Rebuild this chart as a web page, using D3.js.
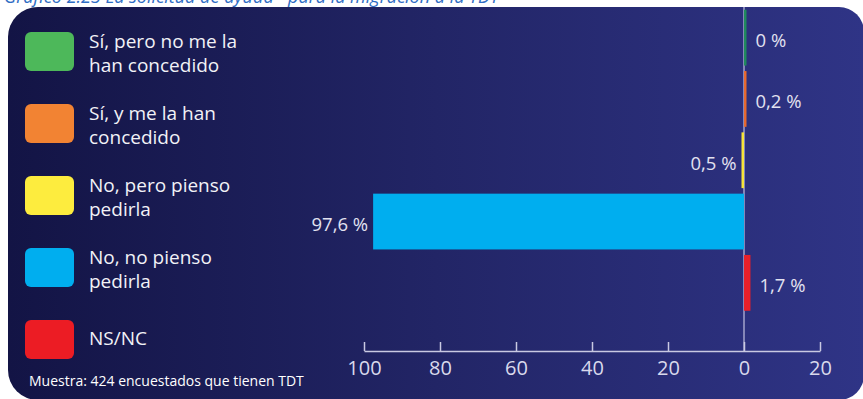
<!DOCTYPE html>
<html><head><meta charset="utf-8">
<script src="https://cdn.jsdelivr.net/npm/d3@7"></script>
<style>html,body{margin:0;padding:0;background:#fff;overflow:hidden;} svg{display:block;}</style>
</head><body><svg id="c" width="863" height="399"></svg>
<script>
const categories = ["Sí, pero no me la han concedido", "Sí, y me la han concedido", "No, pero pienso pedirla", "No, no pienso pedirla", "NS/NC"];
const legendLines = [["Sí, pero no me la","han concedido"],["Sí, y me la han","concedido"],["No, pero pienso","pedirla"],["No, no pienso","pedirla"],["NS/NC"]];
const values = [0, 0.2, 0.5, 97.6, 1.7];
const directions = [1, 1, -1, -1, 1];
const valueLabels = ["0 %","0,2 %","0,5 %","97,6 %","1,7 %"];
const tickValues = [-100,-80,-60,-40,-20,0,20];
const tickLabels = ["100","80","60","40","20","0","20"];
const swatchColors = ["#4db85a","#f28333","#fdec3e","#00aeef","#ec1c24"];
const barColors = ["#1f8a5e","#e8692e","#f6e33a","#00aeef","#e8202a"];
const title = "Gráfico 2.23 La solicitud de ayuda* para la migración a la TDT";
const footnote = "Muestra: 424 encuestados que tienen TDT";

const FONT = "'Open Sans', 'Noto Sans', sans-serif";
const svg = d3.select("#c");
const defs = svg.append("defs");
const grad = defs.append("linearGradient").attr("id","bg").attr("x1","0").attr("x2","1").attr("y1","0").attr("y2","0");
grad.append("stop").attr("offset","0").attr("stop-color","#131445");
grad.append("stop").attr("offset","0.5").attr("stop-color","#222566");
grad.append("stop").attr("offset","1").attr("stop-color","#2f3486");

// panel
const L=8,T=7,R=864,B=400,r1=30,r2=25;
const p = d3.path();
p.moveTo(L+r1,T); p.lineTo(R-r2,T); p.arcTo(R,T,R,T+r2,r2);
p.lineTo(R,B-r2); p.arcTo(R,B,R-r2,B,r2);
p.lineTo(L+r1,B); p.arcTo(L,B,L,B-r1,r1);
p.lineTo(L,T+r1); p.arcTo(L,T,L+r1,T,r1); p.closePath();
svg.append("path").attr("d",p.toString()).attr("fill","url(#bg)");

// title (partly cut off at top, as in the reference)
svg.append("text").attr("x",4).attr("y",3).attr("fill","#2f6dc4")
  .attr("font-family",FONT).attr("font-style","italic")
  .attr("font-size",18).text(title);

// scales
const x = d3.scaleLinear().domain([-100,20]).range([364,820]);
const y = d3.scaleBand().domain(categories).range([7,313.5]).paddingInner(0.09).paddingOuter(0.045);
const axisY = 351;

// zero line
svg.append("line").attr("x1",x(0)).attr("x2",x(0)).attr("y1",T).attr("y2",axisY)
  .attr("stroke","#a3a3cc").attr("stroke-width",1.5);

// bars
const data = categories.map((c,i)=>({c,i,v:values[i]*directions[i]}));
const minW = 2.5;
function barW(d){ return Math.max(Math.abs(x(d.v)-x(0)), minW); }
function barX(d){ return directions[d.i]>0 ? x(0) : x(0)-barW(d); }
svg.append("g").selectAll("rect").data(data).join("rect")
  .attr("x",d=>barX(d)).attr("width",d=>barW(d))
  .attr("y",d=>y(d.c)).attr("height",y.bandwidth())
  .attr("fill",d=>barColors[d.i]);

// value labels
svg.append("g").selectAll("text").data(data).join("text")
  .attr("x",d=>directions[d.i]>0 ? x(0)+barW(d)+9 : x(0)-barW(d)-5)
  .attr("text-anchor",d=>directions[d.i]>0?"start":"end")
  .attr("y",d=>y(d.c)+y.bandwidth()/2+3).attr("dy","0.35em")
  .attr("fill","#e2e2f0").attr("font-family",FONT).attr("font-size",18.5)
  .text(d=>valueLabels[d.i]);

// axis
const axis = d3.axisBottom(x).tickValues(tickValues).tickFormat((d,i)=>tickLabels[i])
  .tickSizeInner(-9).tickSizeOuter(0).tickPadding(10);
const ag = svg.append("g").attr("transform",`translate(0,${axisY})`).call(axis);
ag.select(".domain").attr("stroke","#c9c9e2").attr("stroke-width",1.5);
ag.selectAll(".tick line").attr("stroke","#c9c9e2").attr("stroke-width",1.5);
ag.selectAll(".tick text").attr("fill","#d9d9ec").attr("font-family",FONT).attr("font-size",20);

// legend
const legTop = 32, legStep = 72;
const lg = svg.append("g").selectAll("g").data(categories).join("g")
  .attr("transform",(d,i)=>`translate(25,${legTop+i*legStep})`);
lg.append("rect").attr("width",49).attr("height",39).attr("rx",6).attr("fill",(d,i)=>swatchColors[i]);
lg.each(function(d,i){
  const g = d3.select(this);
  const lines = legendLines[i];
  const t = g.append("text").attr("x",64).attr("fill","#f2f2f7")
    .attr("font-family",FONT).attr("font-size",19);
  lines.forEach((ln,j)=>{
    t.append("tspan").attr("x",64).attr("y", lines.length===1 ? 25 : 15.5+j*24).text(ln);
  });
});

// footnote
svg.append("text").attr("x",29).attr("y",386).attr("fill","#ffffff")
  .attr("font-family",FONT).attr("font-size",14).text(footnote);
</script></body></html>
